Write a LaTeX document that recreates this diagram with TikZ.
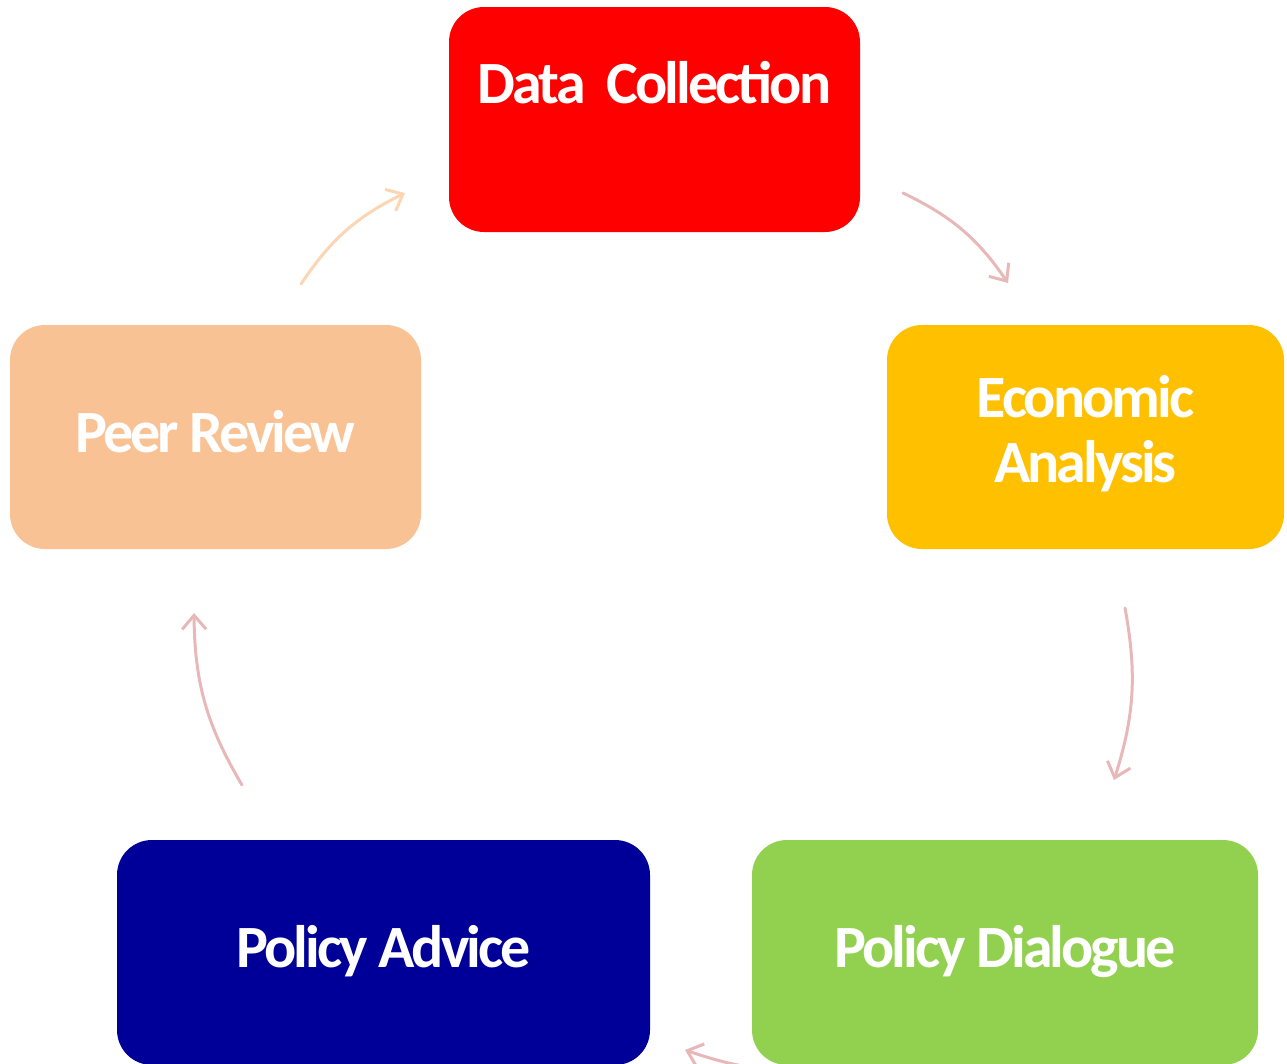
\documentclass[tikz,border=0pt]{standalone}
\usepackage{fontspec}
\setmainfont{Carlito}[LetterSpace=-5]
\usetikzlibrary{arrows.meta}
\tikzset{>={Straight Barb[length=14pt,width=24pt]}}
\definecolor{dcRed}{HTML}{FF0000}
\definecolor{eaGold}{HTML}{FFC000}
\definecolor{prPeach}{HTML}{F9C294}
\definecolor{paNavy}{HTML}{000099}
\definecolor{pdGreen}{HTML}{92D050}
\definecolor{arrPink}{HTML}{E8B8B8}
\definecolor{arrPeach}{HTML}{FCD5B5}
\tikzset{
  box/.style={rounded corners=35pt, inner sep=0pt, text=white, align=center,
    font=\fontsize{60}{65}\selectfont\bfseries, text height=44pt, text depth=14pt},
  arr/.style={->, line width=3pt, line cap=round}
}

\begin{document}
\begin{tikzpicture}[x=1pt,y=-1pt]
\useasboundingbox (0,0) rectangle (1287,1063);
\clip (0,0) rectangle (1287,1063);
\node [box, fill=dcRed, minimum width=411pt, minimum height=225pt, text depth=77pt] (dc) at (654.5,119.5) {Data\ \ Collection};
\node [box, fill=eaGold, minimum width=397pt, minimum height=224pt, text height=104pt] (ea) at (1085.5,437) {Economic\\Analysis};
\node [box, fill=pdGreen, minimum width=506pt, minimum height=225pt] (pd) at (1005,952.5) {Policy Dialogue};
\node [box, fill=paNavy, minimum width=533pt, minimum height=225pt] (pa) at (383.5,952.5) {Policy Advice};
\node [box, fill=prPeach, minimum width=411pt, minimum height=224pt] (pr) at (215.5,437) {Peer Review};
% arrow ends
\coordinate (dc-in) at (405,193);
\coordinate (dc-out) at (903,193);
\coordinate (ea-in) at (1008,283);
\coordinate (ea-out) at (1125,608);
\coordinate (pd-in) at (1114,780);
\coordinate (pd-out) at (800,1072);
\coordinate (pa-in) at (685,1050);
\coordinate (pa-out) at (242,785);
\coordinate (pr-in) at (194,613);
\coordinate (pr-out) at (301,284);
\draw [arr, arrPeach] (pr-out) to[bend left=15] (dc-in);
\draw [arr, arrPink] (dc-out) to[bend left=15] (ea-in);
\draw [arr, arrPink] (ea-out) to[bend left=14] (pd-in);
\draw [arr, arrPink] (pd-out) to[bend left=8] (pa-in);
\draw [arr, arrPink] (pa-out) to[bend left=15] (pr-in);
\end{tikzpicture}
\end{document}
